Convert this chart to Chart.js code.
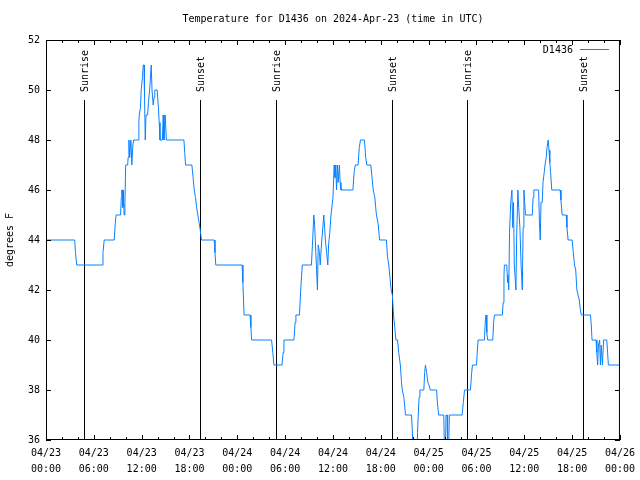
<!DOCTYPE html>
<html>
<head>
<meta charset="utf-8">
<script src="https://cdn.jsdelivr.net/npm/chart.js@4/dist/chart.umd.min.js"></script>
<style>
html,body{margin:0;padding:0;background:#fff;}
#wrap{width:640px;height:480px;}
</style>
</head>
<body>
<div id="wrap"><canvas id="c" width="640" height="480"></canvas></div>
<script>
// ---- data (hours since 2024-04-23 00:00 UTC, temperature in degrees F) ----
const hours = [
 0,3.6,3.7,3.85,7.05,7.15,7.3,8.55,8.7,8.8,9.35,9.45,9.5,9.6,9.65,9.7,9.8,9.9,10.0,10.25,
 10.3,10.4,10.5,10.65,10.77,10.9,11.0,11.56,11.65,11.7,11.85,11.94,12.1,12.2,12.3,12.35,12.45,12.55,12.75,12.85,
 13.0,13.2,13.3,13.45,13.55,13.65,13.95,14.1,14.2,14.3,14.6,14.7,14.8,14.95,15.05,15.1,17.3,17.4,17.5,18.3,
 18.45,18.6,18.75,18.9,19.05,19.2,19.35,19.5,21.1,21.2,21.3,24.6,24.7,24.85,25.6,25.7,25.8,28.3,28.45,28.6,
 29.6,29.75,29.85,31.1,31.25,31.35,31.8,31.95,32.15,33.3,33.45,33.6,33.7,33.85,34.05,34.15,34.3,34.4,34.55,34.85,
 34.95,35.05,35.2,35.35,35.45,35.6,35.75,36.0,36.15,36.25,36.35,36.45,36.55,36.65,36.8,36.9,37.0,38.5,38.65,38.8,
 39.15,39.3,39.45,39.95,40.1,40.25,40.75,40.9,41.05,41.25,41.45,41.65,41.85,42.7,42.85,43.0,43.15,43.3,43.45,43.6,
 43.75,43.9,44.1,44.25,44.45,44.6,44.7,44.9,45.1,45.85,45.95,46.05,46.55,46.6,46.7,46.8,46.9,47.4,47.5,47.6,
 47.75,47.9,48.05,48.2,49.0,49.1,49.25,49.9,49.97,50.12,50.18,50.32,50.38,50.52,50.6,52.2,52.35,52.5,53.25,53.4,
 53.5,54.0,54.1,54.2,55.0,55.1,55.2,55.3,55.4,56.05,56.15,56.25,57.25,57.35,57.45,57.5,57.8,57.9,57.95,58.05,
 58.15,58.3,58.45,58.55,58.65,58.75,58.95,59.05,59.2,59.3,59.45,59.6,59.75,59.85,59.95,60.05,60.15,61.0,61.1,61.2,
 61.8,61.9,62.0,62.1,62.25,62.35,62.5,62.6,62.75,62.85,63.0,63.1,63.2,63.3,63.45,64.5,64.6,64.75,65.25,65.35,
 65.5,66.0,66.15,66.3,66.45,66.6,66.75,66.9,67.0,67.15,68.3,68.4,68.5,69.0,69.1,69.2,69.3,69.45,69.55,69.65,
 69.8,69.95,70.35,70.45,70.55,71.9
];
const temps = [
 44,44,43.5,43,43,43.5,44,44,44.7,45,45,45.7,46,46,45.3,46,45,45.5,47,47,
 47.3,48,47.3,48,47,47.8,48,48,48.7,49,49.3,50,50.5,51,51,50,48,49,49,49.5,
 50,51,50,49.4,49.7,50,50,49.3,48.7,48,48,49,48,49,49,48,48,47.5,47,47,
 46.5,46,45.7,45.3,45,44.7,44.4,44,44,43.5,43,43,42.3,41,41,40.5,40,40,39.5,39,
 39,39.5,40,40,40.7,41,41,42,43,43,44,45,44.6,43.5,42,43.8,43.5,43,43.8,45,
 44.5,44,43.5,43,43.8,44.3,45,45.7,47,46.5,47,46,47,46.3,47,46.3,46,46,46.7,47,
 47,47.7,48,48,47.3,47,47,46.5,46,45.7,45,44.7,44,44,43.3,43,42.5,42,41.8,41,
 40.5,40,40,39.5,39,38.3,38,37.7,37,37,36.4,35.5,35.5,36.3,37,37.7,38,38,38.7,39,
 38.7,38.3,38.2,38,38,37.5,37,37,35.8,35.8,37,37,35.8,35.8,37,37,37.5,38,38,38.7,
 39,39,39.5,40,40,40.7,41,40.3,40,40,40.7,41,41,41.5,42.5,43,43,42.3,42.6,42,
 44.3,45.5,46,44.5,45.5,43,42,44.2,46,45.3,44.5,43,42,44.5,46,45.5,45,45,45.7,46,
 46,44.7,44,45.5,45.5,46.3,46.7,47,47.3,47.7,48,47.6,47.1,46.7,46,46,45.6,45,45,44.5,
 44,44,43.5,43,42.8,42,41.8,41.6,41.3,41,41,40.6,40,40,39.5,39,39.8,40,39,39.8,
 39,40,40,39.5,39,39
];
const tickDates = ['04/23','04/23','04/23','04/23','04/24','04/24','04/24','04/24','04/25','04/25','04/25','04/25','04/26'];
const tickTimes = ['00:00','06:00','12:00','18:00','00:00','06:00','12:00','18:00','00:00','06:00','12:00','18:00','00:00'];
const sunriseHours = [4.78, 28.82, 52.78];
const sunsetHours = [19.33, 43.37, 67.4];
const seriesName = 'D1436';
const titleText = 'Temperature for D1436 on 2024-Apr-23 (time in UTC)';
const yTitle = 'degrees F';

const FONT = '10px "DejaVu Sans Mono", "Liberation Mono", monospace';
const LINE_COLOR = '#0a80ff';

Chart.defaults.font.family = '"DejaVu Sans Mono", "Liberation Mono", monospace';
Chart.defaults.font.size = 10;
Chart.defaults.color = '#000';

const sunPlugin = {
  id: 'sun',
  beforeDatasetsDraw(chart) {
    const {ctx, chartArea: a, scales: {x}} = chart;
    ctx.save();
    ctx.strokeStyle = '#000';
    ctx.fillStyle = '#000';
    ctx.lineWidth = 1;
    ctx.font = FONT;
    const events = sunriseHours.map(h => ({h, t: 'Sunrise'})).concat(sunsetHours.map(h => ({h, t: 'Sunset'})));
    events.forEach(e => {
      const px = Math.round(x.getPixelForValue(e.h)) + 0.5;
      const top = a.bottom - 0.85 * (a.bottom - a.top);
      ctx.beginPath();
      ctx.moveTo(px, a.bottom);
      ctx.lineTo(px, top);
      ctx.stroke();
      ctx.save();
      ctx.translate(px + 1, a.top + 52);
      ctx.rotate(-Math.PI / 2);
      ctx.textAlign = 'left';
      ctx.textBaseline = 'middle';
      ctx.fillText(e.t, 0, 0);
      ctx.restore();
    });
    ctx.restore();
  }
};

const framePlugin = {
  id: 'frame',
  afterDraw(chart) {
    const {ctx, chartArea: a, scales: {x, y}} = chart;
    ctx.save();
    ctx.strokeStyle = '#000';
    ctx.lineWidth = 1;
    ctx.strokeRect(a.left + 0.5, a.top + 0.5, a.right - a.left - 1, a.bottom - a.top - 1);
    ctx.beginPath();
    for (let v = 36; v <= 52; v += 2) {
      const py = Math.round(y.getPixelForValue(v)) + 0.5;
      ctx.moveTo(a.left, py); ctx.lineTo(a.left + 5, py);
      ctx.moveTo(a.right, py); ctx.lineTo(a.right - 5, py);
    }
    for (let h = 0; h <= 72; h += 2) {
      const px = Math.round(x.getPixelForValue(h)) + 0.5;
      const len = (h % 6 === 0) ? 5 : 3;
      ctx.moveTo(px, a.bottom); ctx.lineTo(px, a.bottom - len);
      ctx.moveTo(px, a.top); ctx.lineTo(px, a.top + len);
    }
    ctx.stroke();

    ctx.fillStyle = '#000';
    ctx.font = FONT;
    // title
    ctx.textAlign = 'center';
    ctx.textBaseline = 'middle';
    ctx.fillText(titleText, (a.left + a.right) / 2, 19);
    // y axis title
    ctx.save();
    ctx.translate(10, (a.top + a.bottom) / 2);
    ctx.rotate(-Math.PI / 2);
    ctx.fillText(yTitle, 0, 0);
    ctx.restore();
    // legend
    ctx.textAlign = 'right';
    ctx.fillText(seriesName, a.right - 47, 50);
    ctx.strokeStyle = LINE_COLOR;
    ctx.beginPath();
    ctx.moveTo(a.right - 40, 49.5);
    ctx.lineTo(a.right - 11, 49.5);
    ctx.stroke();
    ctx.restore();
  }
};

new Chart(document.getElementById('c'), {
  type: 'line',
  data: {
    datasets: [{
      label: seriesName,
      data: hours.map((h, i) => ({x: h, y: temps[i]})),
      borderColor: LINE_COLOR,
      borderWidth: 1,
      pointRadius: 0,
      tension: 0,
      fill: false
    }]
  },
  options: {
    responsive: false,
    animation: false,
    events: [],
    layout: {padding: {top: 40, right: 19, left: 0, bottom: 0}},
    plugins: {legend: {display: false}, title: {display: false}, tooltip: {enabled: false}},
    scales: {
      x: {
        type: 'linear', min: 0, max: 72,
        grid: {display: false, drawTicks: false}, border: {display: false},
        ticks: {
          stepSize: 6, autoSkip: false, maxRotation: 0, padding: 5,
          font: {size: 10, lineHeight: 1.6},
          callback: (v) => { const i = Math.round(v / 6); return [tickDates[i], tickTimes[i]]; }
        },
        afterFit: (s) => { s.height = 40; }
      },
      y: {
        min: 36, max: 52,
        grid: {display: false, drawTicks: false}, border: {display: false},
        ticks: {stepSize: 2, padding: 6, font: {size: 10}},
        afterFit: (s) => { s.width = 46; }
      }
    }
  },
  plugins: [sunPlugin, framePlugin]
});
</script>
</body>
</html>
